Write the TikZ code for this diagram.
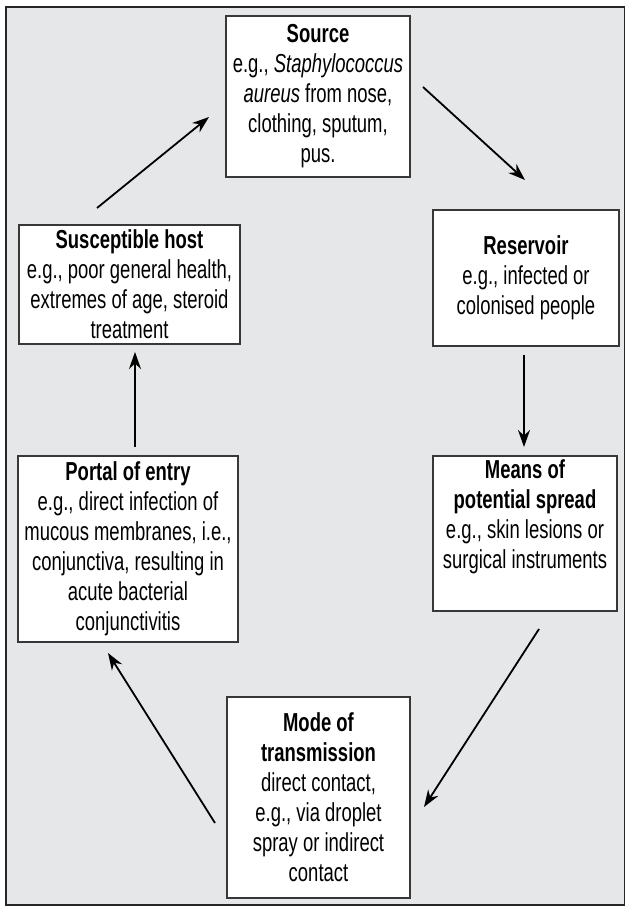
\documentclass[tikz,border=0pt]{standalone}
\usepackage{fontspec}
\setmainfont{Liberation Sans}[FakeStretch=0.71]
\usetikzlibrary{arrows.meta}
\definecolor{bg}{HTML}{E6E7E8}
\definecolor{edge}{HTML}{383838}
\begin{document}
\begin{tikzpicture}[x=1pt,y=-1pt,
  box/.style={draw=edge,line width=1.4pt,fill=white,inner sep=0pt,align=center,
    font=\fontsize{26}{30}\selectfont},
  arr/.style={line width=1.8pt,-{Stealth[length=17pt,width=12pt]}}]
\useasboundingbox (0,0) rectangle (625,906);
\draw[fill=bg,draw=black!85,line width=1.3pt] (6,7) rectangle (624.5,905);

\node[box,minimum width=184pt,minimum height=161pt] (source) at (318,96.5)
  {\textbf{Source}\\ e.g., \textit{Staphylococcus}\\ \textit{aureus} from nose,\\ clothing, sputum,\\ pus.};
\node[box,minimum width=221pt,minimum height=119pt] (host) at (129.5,284.5)
  {\textbf{Susceptible host}\\ e.g., poor general health,\\ extremes of age, steroid\\ treatment};
\node[box,minimum width=186pt,minimum height=136pt] (reservoir) at (526,278)
  {\textbf{Reservoir}\\ e.g., infected or\\ colonised people};
\node[box,minimum width=220pt,minimum height=186pt] (portal) at (128,549)
  {\textbf{Portal of entry}\\ e.g., direct infection of\\ mucous membranes, i.e.,\\ conjunctiva, resulting in\\ acute bacterial\\ conjunctivitis};
\node[box,minimum width=184pt,minimum height=155pt] (means) at (525,533.5)
  {\textbf{Means of}\\ \textbf{potential spread}\\ e.g., skin lesions or\\ surgical instruments\\ \strut};
\node[box,minimum width=183pt,minimum height=201pt] (mode) at (318.5,797.5)
  {\textbf{Mode of}\\ \textbf{transmission}\\ direct contact,\\ e.g., via droplet\\ spray or indirect\\ contact};

\coordinate (h2s) at (97,208);   \coordinate (s2h) at (209,117);
\coordinate (s2r) at (423,87);   \coordinate (r2s) at (525,180);
\coordinate (r2m) at (524,355);  \coordinate (m2r) at (524,447);
\coordinate (m2t) at (539,629);  \coordinate (t2m) at (424,807);
\coordinate (t2p) at (215,823);  \coordinate (p2t) at (108,653);
\coordinate (p2h) at (135,447);  \coordinate (h2p) at (135,352);

\draw[arr] (h2s) -- (s2h);
\draw[arr] (s2r) -- (r2s);
\draw[arr] (r2m) -- (m2r);
\draw[arr] (m2t) -- (t2m);
\draw[arr] (t2p) -- (p2t);
\draw[arr] (p2h) -- (h2p);
\end{tikzpicture}
\end{document}
